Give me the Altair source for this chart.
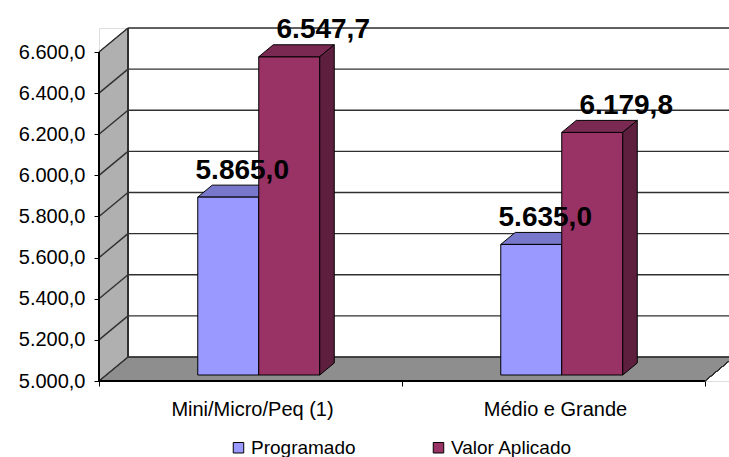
import altair as alt
import pandas as pd

# ---------------- data ----------------
categories = ["Mini/Micro/Peq (1)", "Médio e Grande"]
series = ["Programado", "Valor Aplicado"]
programado = [5865.0, 5635.0]
valor_aplicado = [6547.7, 6179.8]
y_ticks = [5000, 5200, 5400, 5600, 5800, 6000, 6200, 6400, 6600]

# ---------------- style / layout ----------------
colors_front = ["#9999FF", "#993366"]
colors_top = ["#7777CC", "#7A2952"]
colors_side = ["#6B6BB3", "#5E1F3F"]
label_shift = {"Programado": 14, "Valor Aplicado": 34}
FONT = "Liberation Sans"

W, H = 630, 353
PX_PER_UNIT = 329 / 1600
Y_MIN = 5000
Y_MAX = Y_MIN + H / PX_PER_UNIT
DEPTH_X = 29
DEPTH_Y = 24 / PX_PER_UNIT
CAT_W = 303
BAR_W = 61
GAP_L = (CAT_W - 2 * BAR_W) / 2
FRONT_DX = DEPTH_X / 4 + 1
FRONT_DY = DEPTH_Y / 4
BAR_DX = DEPTH_X / 2
BAR_DY = DEPTH_Y / 2
N_CAT = len(categories)
FLOOR_W = CAT_W * N_CAT

values = {"Programado": programado, "Valor Aplicado": valor_aplicado}

bars, tops, sides = [], [], []
for ci, cat in enumerate(categories):
    for si, s in enumerate(series):
        v = values[s][ci]
        x0 = ci * CAT_W + GAP_L + si * BAR_W + FRONT_DX
        x1 = x0 + BAR_W
        base = Y_MIN + FRONT_DY
        top = v + FRONT_DY
        bid = f"{ci}-{si}"
        bars.append(dict(cat=cat, series=s, v=v, x0=x0, x1=x1, base=base, top=top,
                         lx=(x0 + x1) / 2 + label_shift[s]))
        tops.append(dict(bid=bid, series=s, y=top, x=x0, x2=x1))
        tops.append(dict(bid=bid, series=s, y=top + BAR_DY, x=x0 + BAR_DX, x2=x1 + BAR_DX))
        sides.append(dict(bid=bid, series=s, x=x1, y=top, y2=base))
        sides.append(dict(bid=bid, series=s, x=x1 + BAR_DX, y=top + BAR_DY, y2=base + BAR_DY))

bars_df = pd.DataFrame(bars)
tops_df = pd.DataFrame(tops)
sides_df = pd.DataFrame(sides)

floor_df = pd.DataFrame([
    dict(y=Y_MIN, x=0, x2=FLOOR_W),
    dict(y=Y_MIN + DEPTH_Y, x=DEPTH_X, x2=FLOOR_W + DEPTH_X),
])
wall_df = pd.DataFrame([
    dict(x=0, y=y_ticks[-1], y2=Y_MIN),
    dict(x=DEPTH_X, y=y_ticks[-1] + DEPTH_Y, y2=Y_MIN + DEPTH_Y),
])
grid_df = pd.DataFrame([dict(v=t, vb=t + DEPTH_Y) for t in y_ticks])
cat_df = pd.DataFrame([dict(cat=c, x=i * CAT_W + CAT_W / 2 + 2, y=Y_MIN) for i, c in enumerate(categories)])

XS = alt.Scale(domain=[0, W], nice=False, zero=False)
YS = alt.Scale(domain=[Y_MIN, Y_MAX], nice=False, zero=False)
X_AX = alt.Axis(values=[i * CAT_W for i in range(N_CAT + 1)], labels=False, domain=False,
                grid=False, ticks=True, tickSize=5, tickColor="black", title=None)
Y_AX = alt.Axis(values=y_ticks, format=",.1f", domain=False, grid=False, tickSize=5,
                tickColor="black", labelPadding=9, labelFont=FONT, labelFontSize=20,
                labelColor="black", title=None)


def X(f):
    return alt.X(f, scale=XS, axis=X_AX)


def Y(f):
    return alt.Y(f, scale=YS, axis=Y_AX)


LINE = "#303030"

floor = alt.Chart(floor_df).mark_area(orient="horizontal", color="#8E8E8E", stroke=LINE,
                                      strokeWidth=1).encode(
    y=Y("y:Q"), x=X("x:Q"), x2="x2:Q")

side_wall = alt.Chart(wall_df).mark_area(orient="vertical", color="#B0B0B0", stroke=LINE,
                                         strokeWidth=1).encode(
    x=X("x:Q"), y=Y("y:Q"), y2="y2:Q")

back_grid = alt.Chart(grid_df).mark_rule(color=LINE, strokeWidth=1.4).encode(
    x=alt.datum(DEPTH_X, scale=XS, axis=X_AX), x2=alt.datum(W),
    y=Y("vb:Q"))

side_grid = alt.Chart(grid_df).mark_rule(color=LINE, strokeWidth=1.4).encode(
    x=alt.datum(0, scale=XS, axis=X_AX), x2=alt.datum(DEPTH_X),
    y=Y("v:Q"), y2="vb:Q")

wall_edge = alt.Chart(grid_df).mark_rule(color=LINE, strokeWidth=1).encode(
    x=alt.datum(DEPTH_X, scale=XS, axis=X_AX),
    y=alt.datum(Y_MIN + DEPTH_Y, scale=YS, axis=Y_AX), y2=alt.datum(y_ticks[-1] + DEPTH_Y))

floor_edge = alt.Chart(grid_df).mark_rule(color=LINE, strokeWidth=1).encode(
    x=alt.datum(FLOOR_W, scale=XS, axis=X_AX), x2=alt.datum(FLOOR_W + DEPTH_X),
    y=alt.datum(Y_MIN, scale=YS, axis=Y_AX), y2=alt.datum(Y_MIN + DEPTH_Y))


def top_face(s, col):
    return alt.Chart(tops_df).transform_filter(alt.datum.series == s).mark_area(
        orient="horizontal", color=col, stroke="black", strokeWidth=1).encode(
        y=Y("y:Q"), x=X("x:Q"), x2="x2:Q", detail="bid:N")


def side_face(s, col):
    return alt.Chart(sides_df).transform_filter(alt.datum.series == s).mark_area(
        orient="vertical", color=col, stroke="black", strokeWidth=1).encode(
        x=X("x:Q"), y=Y("y:Q"), y2="y2:Q", detail="bid:N")


fronts = alt.Chart(bars_df).mark_rect(stroke="black", strokeWidth=1).encode(
    x=X("x0:Q"), x2="x1:Q", y=Y("base:Q"), y2="top:Q",
    color=alt.Color("series:N", scale=alt.Scale(domain=series, range=colors_front),
                    legend=alt.Legend(orient="none", legendX=130, legendY=410,
                                      direction="horizontal", title=None,
                                      symbolType="square", symbolSize=110,
                                      symbolStrokeColor="black", symbolStrokeWidth=1,
                                      labelFont=FONT, labelFontSize=19,
                                      labelColor="black", columnPadding=73,
                                      labelOffset=3, padding=0)))

axis_y_line = alt.Chart(grid_df).mark_rule(color="black", strokeWidth=1).encode(
    x=alt.datum(0, scale=XS, axis=X_AX),
    y=alt.datum(Y_MIN, scale=YS, axis=Y_AX), y2=alt.datum(y_ticks[-1]))

axis_x_line = alt.Chart(grid_df).mark_rule(color="black", strokeWidth=1).encode(
    x=alt.datum(0, scale=XS, axis=X_AX), x2=alt.datum(FLOOR_W),
    y=alt.datum(Y_MIN, scale=YS, axis=Y_AX))

value_labels = alt.Chart(bars_df).mark_text(
    font=FONT, fontWeight="bold", fontSize=28, color="black",
    baseline="alphabetic", align="center", dy=-18.5).encode(
    x=X("lx:Q"), y=Y("top:Q"), text=alt.Text("v:Q", format=",.1f"))

cat_labels = alt.Chart(cat_df).mark_text(
    font=FONT, fontSize=20, color="black", baseline="alphabetic",
    align="center", dy=35).encode(
    x=X("x:Q"), y=Y("y:Q"), text="cat:N")

chart = alt.layer(
    floor, side_wall, back_grid, side_grid, wall_edge, floor_edge,
    top_face(series[0], colors_top[0]), side_face(series[0], colors_side[0]),
    fronts,
    top_face(series[1], colors_top[1]), side_face(series[1], colors_side[1]),
    axis_y_line, axis_x_line, value_labels, cat_labels,
).properties(
    width=W, height=H,
    padding={"left": 99, "top": 28, "right": 0, "bottom": 76},
    autosize=alt.AutoSizeParams(type="none"),
).configure_view(stroke=None).configure(
    locale={"number": {"decimal": ",", "thousands": ".", "grouping": [3],
                       "currency": ["R$", ""]}}
)

chart.save("out.html", embed_options={"renderer": "svg", "actions": False})
